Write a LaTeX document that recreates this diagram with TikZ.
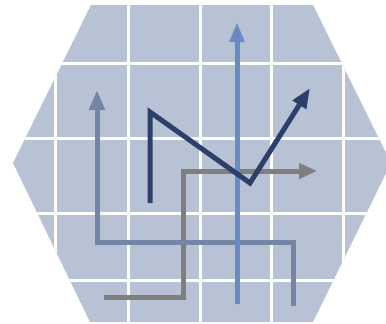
\documentclass[tikz,border=0pt]{standalone}
\usepackage{tikz}
\usetikzlibrary{arrows.meta}
\definecolor{hexfill}{RGB}{183,195,212}
\definecolor{lightline}{RGB}{107,138,196}
\definecolor{slateline}{RGB}{117,133,166}
\definecolor{navyline}{RGB}{44,63,106}
\definecolor{grayline}{RGB}{127,127,127}
\tikzset{
    gridline/.style={
        line width=3pt,
        white
    },
    % arrows of the picture
    grayarrow/.style={
        line width=5pt,
        grayline,
        ->,
        >={Triangle[length=18pt, width=15pt]}
    },
    slatearrow/.style={
        line width=5pt,
        slateline,
        ->,
        >={Triangle[length=20pt, width=15pt]}
    },
    lightarrow/.style={
        line width=5pt,
        lightline,
        ->,
        >={Triangle[length=20pt, width=14pt]}
    },
    navyarrow/.style={
        line width=5pt,
        navyline,
        ->,
        >={Triangle[length=20pt, width=15pt]}
    }
}
\begin{document}
\begin{tikzpicture}[x=1pt,y=-1pt]
    \clip (0,0) rectangle (386,324);

    \fill[hexfill] (91,5) -- (313,5) -- (391,163) -- (313,322) -- (90,322) -- (13,163) -- cycle;

    \begin{scope}
        \clip (91,5) -- (313,5) -- (391,163) -- (313,322) -- (90,322) -- (13,163) -- cycle;
        \foreach \x in {55,128,200,271,343}
            \draw[gridline] (\x,0) -- (\x,324);
        \foreach \y in {63,138,213,280}
            \draw[gridline] (0,\y) -- (386,\y);
    \end{scope}

    \coordinate (g0) at (104,297);
    \coordinate (g1) at (317,171);
    \coordinate (s0) at (293,306);
    \coordinate (s1) at (97,90);
    \coordinate (l0) at (237,304);
    \coordinate (l1) at (237,22);
    \coordinate (n0) at (150,203);
    \coordinate (n1) at (150,112);
    \coordinate (n2) at (250,183);
    \coordinate (n3) at (310,88);

    \draw[grayarrow] (g0) -- (183,297) -- (183,171) -- (g1);
    \draw[slatearrow] (s0) -- (293,242) -- (97,242) -- (s1);
    \draw[lightarrow] (l0) -- (l1);
    \draw[navyarrow] (n0) -- (n1) -- (n2) -- (n3);
\end{tikzpicture}
\end{document}
